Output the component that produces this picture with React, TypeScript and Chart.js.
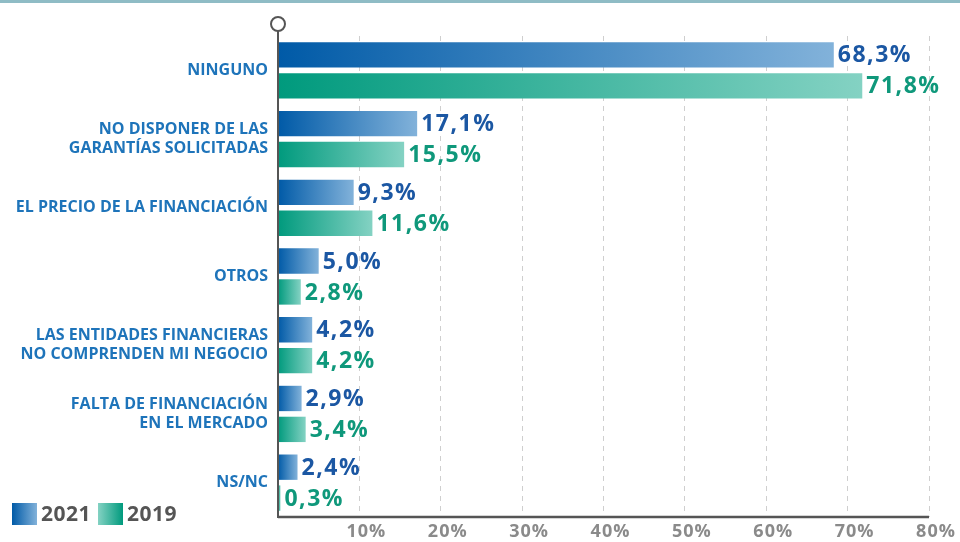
import React, { useEffect, useRef } from "react";
import { Chart, registerables } from "chart.js";

Chart.register(...registerables);

const categories: (string | string[])[] = [
  "NINGUNO",
  ["NO DISPONER DE LAS", "GARANTÍAS SOLICITADAS"],
  "EL PRECIO DE LA FINANCIACIÓN",
  "OTROS",
  ["LAS ENTIDADES FINANCIERAS", "NO COMPRENDEN MI NEGOCIO"],
  ["FALTA DE FINANCIACIÓN", "EN EL MERCADO"],
  "NS/NC",
];
const values2021 = [68.3, 17.1, 9.3, 5.0, 4.2, 2.9, 2.4];
const values2019 = [71.8, 15.5, 11.6, 2.8, 4.2, 3.4, 0.3];
const seriesNames = ["2021", "2019"];
const xTicks = [0, 10, 20, 30, 40, 50, 60, 70, 80];

const DARK = ["#005aa7", "#009a7d"];
const LIGHT = ["#82b2da", "#84d2c3"];
const LABEL_COLORS = ["#1b57a3", "#0f987b"];
const FONT = "'Open Sans', 'Noto Sans', sans-serif";

function gradientFill(idx: number) {
  return (ctx: any) => {
    const chart = ctx.chart;
    if (!chart.chartArea || ctx.type !== "data") return DARK[idx];
    const x = chart.scales.x;
    const x0 = x.getPixelForValue(0);
    const x1 = x.getPixelForValue(ctx.raw as number);
    const g = chart.ctx.createLinearGradient(x0, 0, Math.max(x1, x0 + 1), 0);
    g.addColorStop(0, DARK[idx]);
    g.addColorStop(1, LIGHT[idx]);
    return g;
  };
}

const decorPlugin = {
  id: "decor",
  beforeDraw(chart: any) {
    const c = chart.ctx;
    c.save();
    c.fillStyle = "#ffffff";
    c.fillRect(0, 0, chart.width, chart.height);
    c.fillStyle = "#8fbcc5";
    c.fillRect(0, 0, chart.width, 3);
    c.restore();
  },
  afterDatasetsDraw(chart: any) {
    const c = chart.ctx;
    const area = chart.chartArea;
    const xs = chart.scales.x;
    c.save();
    c.setLineDash([]);
    c.strokeStyle = "#555555";
    // bottom axis
    c.lineWidth = 2.5;
    c.beginPath();
    c.moveTo(area.left, area.bottom);
    c.lineTo(area.right, area.bottom);
    c.stroke();
    // vertical axis with circle
    c.lineWidth = 2;
    c.beginPath();
    c.moveTo(area.left, 31);
    c.lineTo(area.left, area.bottom + 1);
    c.stroke();
    c.beginPath();
    c.arc(area.left, 24, 7, 0, Math.PI * 2);
    c.fillStyle = "#ffffff";
    c.fill();
    c.stroke();
    // x tick labels
    c.font = `bold 18px ${FONT}`;
    (c as any).letterSpacing = "1px";
    c.fillStyle = "#8a8a8a";
    c.textAlign = "center";
    c.textBaseline = "middle";
    xTicks.forEach((v) => {
      if (v === 0) return;
      c.fillText(v + "%", xs.getPixelForValue(v) + 7, area.bottom + 15);
    });
    // value labels
    c.font = `bold 23px ${FONT}`;
    (c as any).letterSpacing = "1.5px";
    c.textBaseline = "middle";
    c.textAlign = "left";
    chart.data.datasets.forEach((ds: any, di: number) => {
      const meta = chart.getDatasetMeta(di);
      c.fillStyle = LABEL_COLORS[di];
      meta.data.forEach((el: any, i: number) => {
        const v = ds.data[i] as number;
        const txt = v.toFixed(1).replace(".", ",") + "%";
        c.fillText(txt, el.x + 4, el.y + 1);
      });
    });
    // legend
    const ly = 503;
    const items = [
      { x: 12, tx: 41, rev: false, idx: 0 },
      { x: 98, tx: 127, rev: true, idx: 1 },
    ];
    (c as any).letterSpacing = "0.5px";
    items.forEach((it) => {
      const g = c.createLinearGradient(it.x, 0, it.x + 25, 0);
      g.addColorStop(0, it.rev ? LIGHT[it.idx] : DARK[it.idx]);
      g.addColorStop(1, it.rev ? DARK[it.idx] : LIGHT[it.idx]);
      c.fillStyle = g;
      c.fillRect(it.x, ly, 25, 22);
      c.fillStyle = "#555555";
      c.font = `bold 21px ${FONT}`;
      c.textBaseline = "middle";
      c.fillText(seriesNames[it.idx], it.tx, ly + 12);
    });
    (c as any).letterSpacing = "0px";
    c.restore();
  },
};

export default function App() {
  const ref = useRef<HTMLCanvasElement>(null);
  useEffect(() => {
    if (!ref.current) return;
    const chart = new Chart(ref.current, {
      type: "bar",
      data: {
        labels: categories,
        datasets: [
          {
            label: seriesNames[0],
            data: values2021,
            backgroundColor: gradientFill(0),
            categoryPercentage: 0.9,
            barPercentage: 0.82,
          },
          {
            label: seriesNames[1],
            data: values2019,
            backgroundColor: gradientFill(1),
            categoryPercentage: 0.9,
            barPercentage: 0.82,
          },
        ],
      },
      options: {
        indexAxis: "y",
        responsive: false,
        animation: false,
        layout: { padding: { top: 36, right: 31, left: 0, bottom: 0 } },
        plugins: { legend: { display: false }, tooltip: { enabled: false } },
        scales: {
          x: {
            min: 0,
            max: 80,
            afterFit: (s: any) => {
              s.height = 25;
            },
            afterBuildTicks: (s: any) => {
              s.ticks = xTicks.map((v) => ({ value: v }));
            },
            grid: {
              color: "#cfcfcf",
              lineWidth: 1,
              drawTicks: false,
            },
            border: { display: false, dash: [5, 5] },
            ticks: {
              display: false,
              autoSkip: false,
            },
          },
          y: {
            afterFit: (s: any) => {
              s.width = 278;
            },
            grid: { display: false, drawTicks: false },
            border: { display: false },
            ticks: {
              padding: 10,
              color: "#1e74ba",
              font: { family: FONT, size: 16, weight: "bold", lineHeight: 1.2 },
              autoSkip: false,
            },
          },
        },
      } as any,
      plugins: [decorPlugin],
    });
    return () => chart.destroy();
  }, []);
  return (
    <div style={{ position: "absolute", left: 0, top: 0, width: 960, height: 542, background: "#fff" }}>
      <canvas ref={ref} width={960} height={542} />
    </div>
  );
}
